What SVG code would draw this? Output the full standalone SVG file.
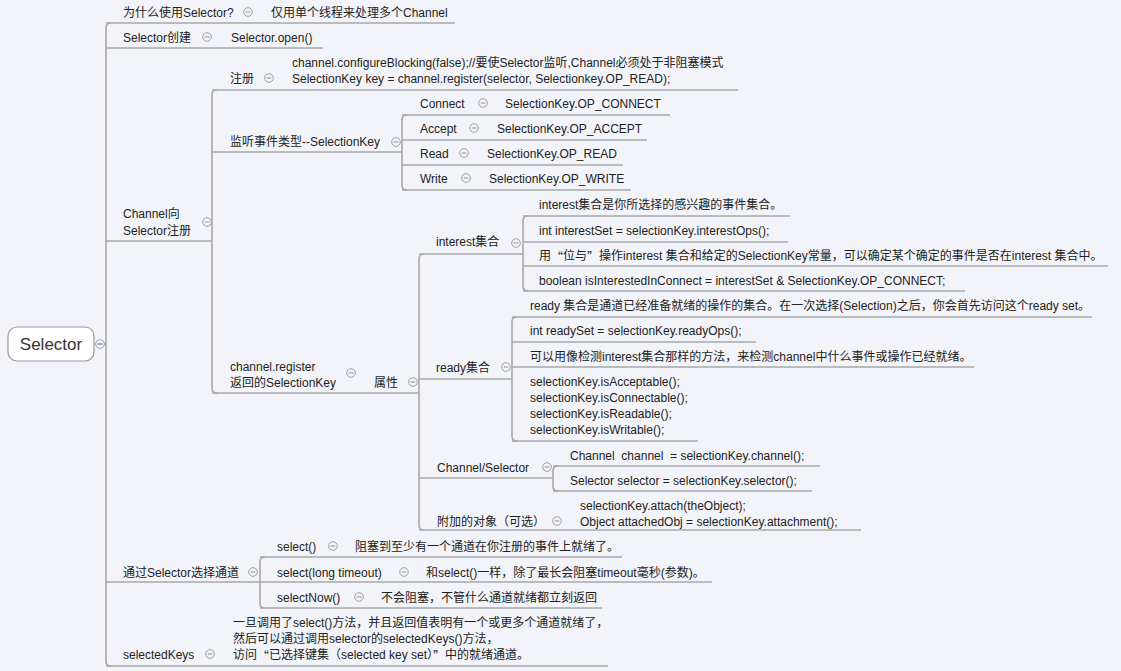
<svg xmlns="http://www.w3.org/2000/svg" width="1121" height="671" viewBox="0 0 1121 671">
<style>
text{font-family:"Liberation Sans","Noto Sans CJK SC",sans-serif;font-size:12px;fill:#222;dominant-baseline:central}
.root{font-size:17px;fill:#333}
.cjk{font-family:"Noto Sans CJK SC",sans-serif}
.pre{white-space:pre}
.ln{fill:none;stroke:#a8a8a8;stroke-width:1.6}
.tg circle{fill:#f3f4f9;stroke:#a0a0a0;stroke-width:1}
.tg line{stroke:#909090;stroke-width:1}
</style>
<defs>
<g id="tog" class="tg"><circle r="4.3"/><line x1="-2.3" y1="0" x2="2.3" y2="0"/></g>
</defs>
<rect width="1121" height="671" fill="#f3f4f9"/>
<g id="connectors">
<path class="ln" d="M100,344 H106"/>
<path class="ln" d="M111,23 Q106,23 106,28 V661 Q106,666 111,666"/>
<path class="ln" d="M106,23 H455 M106,48 H323 M106,241 H212 M106,582 H260 M106,666 H608"/>
<path class="ln" d="M217,90 Q212,90 212,95 V388 Q212,393 217,393"/>
<path class="ln" d="M212,90 H738 M212,152 H402 M212,393 H419"/>
<path class="ln" d="M407,115 Q402,115 402,120 V185 Q402,190 407,190"/>
<path class="ln" d="M402,115 H670 M402,140 H647 M402,165 H623 M402,190 H631"/>
<path class="ln" d="M424,254 Q419,254 419,259 V525 Q419,530 424,530"/>
<path class="ln" d="M419,254 H523 M419,379 H512 M419,478 H553 M419,530 H861"/>
<path class="ln" d="M528,216 Q523,216 523,221 V286 Q523,291 528,291"/>
<path class="ln" d="M523,216 H790 M523,242 H788 M523,266 H1108 M523,291 H965"/>
<path class="ln" d="M517,317 Q512,317 512,322 V436 Q512,441 517,441"/>
<path class="ln" d="M512,317 H1092 M512,342 H756 M512,367 H974 M512,441 H698"/>
<path class="ln" d="M558,466 Q553,466 553,471 V486 Q553,491 558,491"/>
<path class="ln" d="M553,466 H820 M553,491 H812"/>
<path class="ln" d="M265,557 Q260,557 260,562 V603 Q260,608 265,608"/>
<path class="ln" d="M260,557 H622 M260,582 H712 M260,608 H602"/>
</g>
<g id="root">
<rect x="8" y="327" width="86" height="34" rx="9" fill="#fff" stroke="#9a9a9a" stroke-width="1.2"/>
<text class="root" x="51" y="344" text-anchor="middle">Selector</text>
<circle cx="100" cy="344" r="4.3" fill="#f3f4f9" stroke="#a0a0a0"/>
<line x1="97.6" y1="344" x2="102.4" y2="344" stroke="#5b63c9" stroke-width="1.2"/>
</g>
<g id="why">
<text x="123" y="13">为什么使用Selector?</text><use href="#tog" x="248" y="12"/>
<text x="271" y="13">仅用单个线程来处理多个Channel</text>
</g>
<g id="create">
<text x="123" y="38">Selector创建</text><use href="#tog" x="207" y="37"/>
<text x="231" y="38">Selector.open()</text>
</g>
<g id="register-branch">
<text x="123" y="214">Channel向</text><text x="123" y="231">Selector注册</text><use href="#tog" x="207" y="222"/>
</g>
<g id="register">
<text x="230" y="79">注册</text><use href="#tog" x="269" y="78"/>
<text x="292" y="63">channel.configureBlocking(false);//要使Selector监听,Channel必须处于非阻塞模式</text>
<text x="292" y="79">SelectionKey key = channel.register(selector, Selectionkey.OP_READ);</text>
</g>
<g id="event-types">
<text x="230" y="142">监听事件类型--SelectionKey</text><use href="#tog" x="396" y="142"/>
</g>
<g id="connect"><text x="420" y="104">Connect</text><use href="#tog" x="483" y="103"/><text x="505" y="104">SelectionKey.OP_CONNECT</text></g>
<g id="accept"><text x="420" y="129">Accept</text><use href="#tog" x="474" y="128"/><text x="497" y="129">SelectionKey.OP_ACCEPT</text></g>
<g id="read"><text x="420" y="154">Read</text><use href="#tog" x="464" y="153"/><text x="487" y="154">SelectionKey.OP_READ</text></g>
<g id="write"><text x="420" y="179">Write</text><use href="#tog" x="466" y="178"/><text x="489" y="179">SelectionKey.OP_WRITE</text></g>
<g id="returned-key">
<text x="230" y="367">channel.register</text><text x="230" y="383">返回的SelectionKey</text><use href="#tog" x="351" y="373"/>
</g>
<g id="attributes"><text x="374" y="383">属性</text><use href="#tog" x="413" y="382"/></g>
<g id="interest">
<text x="436" y="242">interest集合</text><use href="#tog" x="516" y="243"/>
<text x="539" y="205">interest集合是你所选择的感兴趣的事件集合。</text>
<text x="539" y="231">int interestSet = selectionKey.interestOps();</text>
<text x="539" y="256">用<tspan class="cjk">“</tspan>位与<tspan class="cjk">”</tspan>操作interest 集合和给定的SelectionKey常量，可以确定某个确定的事件是否在interest 集合中。</text>
<text x="539" y="281">boolean isInterestedInConnect = interestSet &amp; SelectionKey.OP_CONNECT;</text>
</g>
<g id="ready">
<text x="436" y="368">ready集合</text><use href="#tog" x="506" y="367"/>
<text x="530" y="306">ready 集合是通道已经准备就绪的操作的集合。在一次选择(Selection)之后，你会首先访问这个ready set。</text>
<text x="530" y="331">int readySet = selectionKey.readyOps();</text>
<text x="530" y="357">可以用像检测interest集合那样的方法，来检测channel中什么事件或操作已经就绪。</text>
<text x="530" y="382">selectionKey.isAcceptable();</text>
<text x="530" y="398">selectionKey.isConnectable();</text>
<text x="530" y="414">selectionKey.isReadable();</text>
<text x="530" y="430">selectionKey.isWritable();</text>
</g>
<g id="channel-selector">
<text x="437" y="468">Channel/Selector</text><use href="#tog" x="547" y="467"/>
<text class="pre" x="570" y="456">Channel  channel  = selectionKey.channel();</text>
<text x="570" y="481">Selector selector = selectionKey.selector();</text>
</g>
<g id="attach">
<text x="437" y="522">附加的对象（可选）</text><use href="#tog" x="557" y="521"/>
<text x="580" y="506">selectionKey.attach(theObject);</text>
<text x="580" y="522">Object attachedObj = selectionKey.attachment();</text>
</g>
<g id="select-branch"><text x="123" y="573">通过Selector选择通道</text><use href="#tog" x="253" y="572"/></g>
<g id="select"><text x="277" y="547">select()</text><use href="#tog" x="333" y="546"/><text x="355" y="547">阻塞到至少有一个通道在你注册的事件上就绪了。</text></g>
<g id="select-timeout"><text x="277" y="573">select(long timeout)</text><use href="#tog" x="404" y="572"/><text x="426" y="573">和select()一样，除了最长会阻塞timeout毫秒(参数)。</text></g>
<g id="select-now"><text x="277" y="598">selectNow()</text><use href="#tog" x="359" y="597"/><text x="381" y="598">不会阻塞，不管什么通道就绪都立刻返回</text></g>
<g id="selected-keys">
<text x="123" y="655">selectedKeys</text><use href="#tog" x="210" y="654"/>
<text x="233" y="623">一旦调用了select()方法，并且返回值表明有一个或更多个通道就绪了，</text>
<text x="233" y="639">然后可以通过调用selector的selectedKeys()方法，</text>
<text x="233" y="655">访问<tspan class="cjk">“</tspan>已选择键集（selected key set）<tspan class="cjk">”</tspan>中的就绪通道。</text>
</g>
</svg>
